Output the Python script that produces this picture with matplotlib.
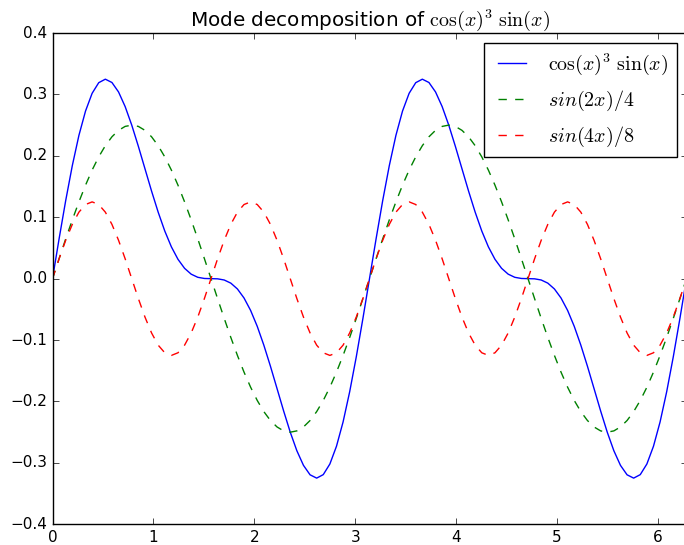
import matplotlib
matplotlib.use("Agg")
import matplotlib.pyplot as plt
import numpy as np

plt.style.use('classic')

n_points = 97
mode_sum = [0, 0.0650, 0.1272, 0.1841, 0.2333, 0.2729, 0.3018, 0.3191, 0.3248, 0.3194,
            0.3040, 0.2802, 0.25, 0.2155, 0.1790, 0.1426, 0.1083, 0.0776, 0.0518, 0.0315,
            0.0168, 0.0073, 0.0022, 0.0003, 0, -0.0003, -0.0022, -0.0073, -0.0168, -0.0315,
            -0.0518, -0.0776, -0.1083, -0.1426, -0.1790, -0.2155, -0.25, -0.2802, -0.3040, -0.3194,
            -0.3248, -0.3191, -0.3018, -0.2729, -0.2333, -0.1841, -0.1272, -0.0650, 0,
            0.0650, 0.1272, 0.1841, 0.2333, 0.2729, 0.3018, 0.3191, 0.3248, 0.3194,
            0.3040, 0.2802, 0.25, 0.2155, 0.1790, 0.1426, 0.1083, 0.0776, 0.0518, 0.0315,
            0.0168, 0.0073, 0.0022, 0.0003, 0, -0.0003, -0.0022, -0.0073, -0.0168, -0.0315,
            -0.0518, -0.0776, -0.1083, -0.1426, -0.1790, -0.2155, -0.25, -0.2802, -0.3040, -0.3194,
            -0.3248, -0.3191, -0.3018, -0.2729, -0.2333, -0.1841, -0.1272, -0.0650, 0]

mode_2x = [0, 0.0326, 0.0647, 0.0957, 0.125, 0.1522, 0.1768, 0.1983, 0.2165, 0.2310, 0.2415, 0.2479,
           0.25, 0.2479, 0.2415, 0.2310, 0.2165, 0.1983, 0.1768, 0.1522, 0.125, 0.0957, 0.0647, 0.0326,
           0, -0.0326, -0.0647, -0.0957, -0.125, -0.1522, -0.1768, -0.1983, -0.2165, -0.2310, -0.2415, -0.2479,
           -0.25, -0.2479, -0.2415, -0.2310, -0.2165, -0.1983, -0.1768, -0.1522, -0.125, -0.0957, -0.0647, -0.0326,
           0, 0.0326, 0.0647, 0.0957, 0.125, 0.1522, 0.1768, 0.1983, 0.2165, 0.2310, 0.2415, 0.2479,
           0.25, 0.2479, 0.2415, 0.2310, 0.2165, 0.1983, 0.1768, 0.1522, 0.125, 0.0957, 0.0647, 0.0326,
           0, -0.0326, -0.0647, -0.0957, -0.125, -0.1522, -0.1768, -0.1983, -0.2165, -0.2310, -0.2415, -0.2479,
           -0.25, -0.2479, -0.2415, -0.2310, -0.2165, -0.1983, -0.1768, -0.1522, -0.125, -0.0957, -0.0647, -0.0326, 0]

mode_4x = [0, 0.0324, 0.0625, 0.0884, 0.1083, 0.1207, 0.125, 0.1207, 0.1083, 0.0884, 0.0625, 0.0324,
           0, -0.0324, -0.0625, -0.0884, -0.1083, -0.1207, -0.125, -0.1207, -0.1083, -0.0884, -0.0625, -0.0324,
           0, 0.0324, 0.0625, 0.0884, 0.1083, 0.1207, 0.125, 0.1207, 0.1083, 0.0884, 0.0625, 0.0324,
           0, -0.0324, -0.0625, -0.0884, -0.1083, -0.1207, -0.125, -0.1207, -0.1083, -0.0884, -0.0625, -0.0324,
           0, 0.0324, 0.0625, 0.0884, 0.1083, 0.1207, 0.125, 0.1207, 0.1083, 0.0884, 0.0625, 0.0324,
           0, -0.0324, -0.0625, -0.0884, -0.1083, -0.1207, -0.125, -0.1207, -0.1083, -0.0884, -0.0625, -0.0324,
           0, 0.0324, 0.0625, 0.0884, 0.1083, 0.1207, 0.125, 0.1207, 0.1083, 0.0884, 0.0625, 0.0324,
           0, -0.0324, -0.0625, -0.0884, -0.1083, -0.1207, -0.125, -0.1207, -0.1083, -0.0884, -0.0625, -0.0324, 0]

labels = [r'$\cos(x)^3\ \sin(x)$', r'$sin(2x)/4$', r'$sin(4x)/8$']

x = np.linspace(0, 2 * np.pi, n_points)

fig = plt.figure(figsize=(6.84, 5.45), dpi=100)
ax = fig.add_axes([52.5 / 684, 20.7 / 545, 634 / 684, 491.3 / 545])

ax.plot(x, mode_sum, 'b-', label=labels[0])
ax.plot(x, mode_2x, 'g--', label=labels[1])
ax.plot(x, mode_4x, 'r--', label=labels[2])

ax.set_xlim(0, 2 * np.pi)
ax.set_ylim(-0.4, 0.4)
ax.tick_params(labelsize=11)
ax.set_title(r'Mode decomposition of $\cos(x)^3\ \sin(x)$', fontsize=14.4)
ax.legend(loc='upper right', fontsize=14.4, labelspacing=0.6)

fig.savefig('out.png', dpi=100)
